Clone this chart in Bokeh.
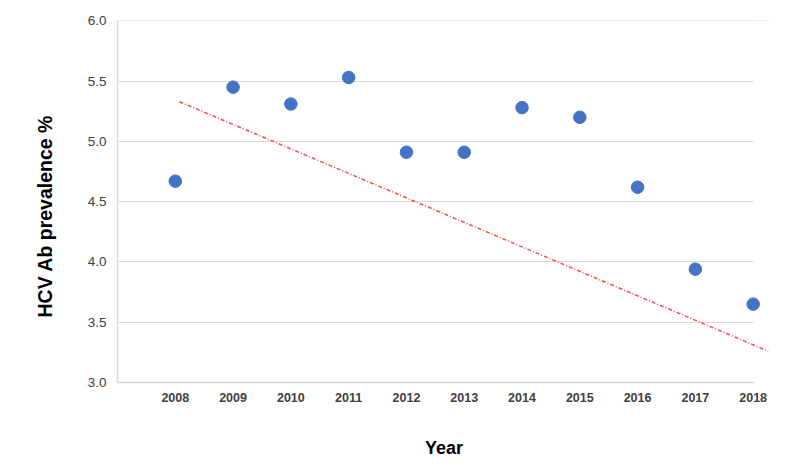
from bokeh.plotting import figure
from bokeh.models import FixedTicker, Range1d, Title, BoxAnnotation
from bokeh.embed import file_html
from bokeh.resources import INLINE

years = [2008, 2009, 2010, 2011, 2012, 2013, 2014, 2015, 2016, 2017, 2018]
prevalence = [4.67, 5.45, 5.31, 5.53, 4.91, 4.91, 5.28, 5.20, 4.62, 3.94, 3.65]
trend_x = [2008.07, 2018.26]
trend_y = [5.33, 3.26]
y_ticks = [3.0, 3.5, 4.0, 4.5, 5.0, 5.5, 6.0]
y_tick_labels = ["3.0", "3.5", "4.0", "4.5", "5.0", "5.5", "6.0"]
x_title = "Year"
y_title = "HCV Ab prevalence %"

FONT = "Liberation Sans"

p = figure(width=800, height=466, output_backend="svg", toolbar_location=None,
           x_range=Range1d(2007.0, 2018.3), y_range=Range1d(3.0, 6.003),
           min_border_left=117, min_border_right=30, min_border_top=20, min_border_bottom=84)
p.outline_line_color = None
p.background_fill_color = "white"
p.border_fill_color = "white"

# grids
p.xgrid.grid_line_color = None
p.ygrid.grid_line_color = "#d9d9d9"
p.ygrid.grid_line_width = 1.2
p.ygrid.ticker = FixedTicker(ticks=y_ticks)

# hide grid lines right of the chart area (the trend line runs a little past it)
p.add_layout(BoxAnnotation(left=2018.015, fill_color="white", fill_alpha=1.0,
                           line_alpha=0, level="underlay"))

# x axis
xa = p.xaxis[0]
xa.ticker = FixedTicker(ticks=years)
xa.bounds = (2007.0, 2018.015)
xa.axis_line_color = "#d9d9d9"
xa.axis_line_width = 1.5
xa.major_tick_line_color = None
xa.minor_tick_line_color = None
xa.major_tick_in = 0
xa.major_tick_out = 0
xa.major_label_standoff = 10
xa.major_label_text_font = FONT
xa.major_label_text_font_style = "bold"
xa.major_label_text_font_size = "12.5px"
xa.major_label_text_color = "#404040"
xa.axis_label = x_title
xa.axis_label_standoff = 33
xa.axis_label_text_font = FONT
xa.axis_label_text_font_style = "bold"
xa.axis_label_text_font_size = "18px"
xa.axis_label_text_color = "#000000"

# y axis
ya = p.yaxis[0]
ya.ticker = FixedTicker(ticks=y_ticks)
ya.major_label_overrides = {t: l for t, l in zip(y_ticks, y_tick_labels)}
ya.axis_line_color = "#d9d9d9"
ya.axis_line_width = 1.5
ya.major_tick_line_color = None
ya.minor_tick_line_color = None
ya.major_tick_in = 0
ya.major_tick_out = 0
ya.major_label_standoff = 11
ya.major_label_text_font = FONT
ya.major_label_text_font_size = "13.5px"
ya.major_label_text_color = "#404040"

# y title as a Title so it can be shifted along the axis like the reference
p.add_layout(Title(text=y_title, align="left", offset=65, standoff=57,
                   text_font=FONT, text_font_style="bold", text_font_size="19.5px",
                   text_color="#000000"), "left")

# trend line
p.line(trend_x, trend_y, line_color="#ff2a2a", line_width=1.5, line_dash="4 2 1 2", line_alpha=0.85)

# points
p.scatter(years, prevalence, size=12.5, fill_color="#4472c4", line_color="#4472c4")

open("out.html", "w").write(file_html(p, INLINE))
